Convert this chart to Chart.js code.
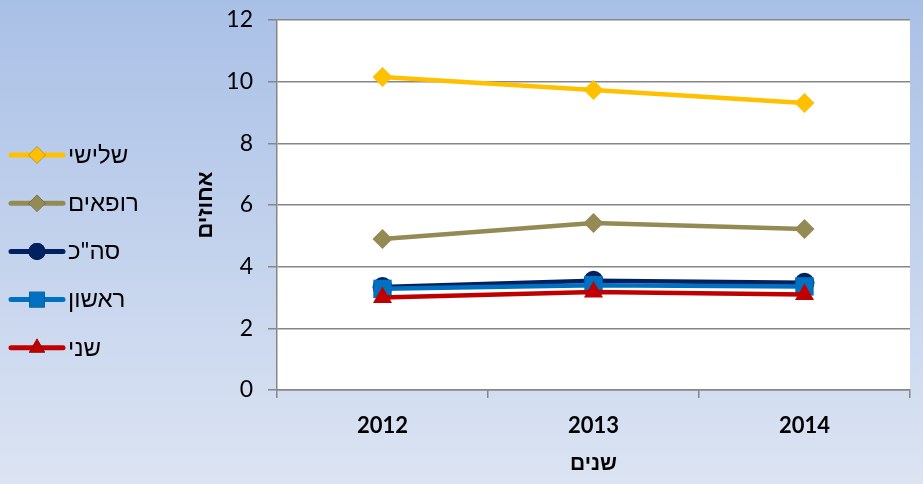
<!DOCTYPE html>
<html>
<head>
<meta charset="utf-8">
<script src="https://cdn.jsdelivr.net/npm/chart.js@4/dist/chart.umd.min.js"></script>
<style>
  html, body { margin: 0; padding: 0; }
  #wrap { width: 923px; height: 484px; }
</style>
</head>
<body>
<div id="wrap"><canvas id="chart" width="923" height="484"></canvas></div>
<script>
// data
const years = ["2012", "2013", "2014"];
const seriesNames = ["שלישי", "רופאים", 'סה"כ', "ראשון", "שני"];
const third = [10.15, 9.73, 9.31];
const doctors = [4.9, 5.42, 5.22];
const total = [3.34, 3.54, 3.48];
const first = [3.28, 3.4, 3.36];
const second = [3.0, 3.18, 3.1];
const yTicks = [0, 2, 4, 6, 8, 10, 12];

const colors = ["#FFC000", "#948A54", "#002060", "#0070C0", "#C00000"];
const markers = ["rectRot", "rectRot", "circle", "rect", "triangle"];
const radii = [10, 10, 10, 13, 11];
const values = [third, doctors, total, first, second];
const drawOrder = [4, 3, 2, 1, 0];

const FONT = "Lato, 'Liberation Sans', sans-serif";

const datasets = seriesNames.map((name, i) => ({
  label: name,
  data: values[i],
  borderColor: colors[i],
  backgroundColor: colors[i],
  borderWidth: 4.5,
  pointStyle: markers[i],
  pointRadius: radii[i],
  pointHoverRadius: radii[i],
  pointBorderWidth: 0,
  tension: 0,
  order: drawOrder[i]
}));

// page background gradient + white plot area
const backdrop = {
  id: "backdrop",
  beforeDraw(chart) {
    const { ctx, width, height, chartArea } = chart;
    const g = ctx.createLinearGradient(0, 0, 0, height);
    g.addColorStop(0, "#a9c0e6");
    g.addColorStop(1, "#dce4f3");
    ctx.save();
    ctx.fillStyle = g;
    ctx.fillRect(0, 0, width, height);
    ctx.fillStyle = "#ffffff";
    ctx.fillRect(chartArea.left, chartArea.top, chartArea.right - chartArea.left, chartArea.bottom - chartArea.top);
    ctx.restore();
  }
};

// legend on the left: line + marker, label to the right
const sideLegend = {
  id: "sideLegend",
  afterDraw(chart) {
    const { ctx } = chart;
    ctx.save();
    chart.data.datasets.forEach((ds, i) => {
      const y = 155 + i * 48.2;
      ctx.strokeStyle = ds.borderColor;
      ctx.lineWidth = 5;
      ctx.lineCap = "round";
      ctx.beginPath();
      ctx.moveTo(11, y);
      ctx.lineTo(63, y);
      ctx.stroke();
      Chart.helpers.drawPoint(ctx, {
        pointStyle: ds.pointStyle,
        radius: ds.pointRadius * 0.85,
        borderWidth: 0
      }, 37, y);
      ctx.fillStyle = ds.backgroundColor;
      ctx.fill();
      ctx.fillStyle = "#000000";
      ctx.font = "24px " + FONT;
      ctx.textAlign = "left";
      ctx.textBaseline = "middle";
      ctx.fillText(ds.label, 68, y);
    });
    ctx.restore();
  }
};

new Chart(document.getElementById("chart"), {
  type: "line",
  data: { labels: years, datasets: datasets },
  plugins: [backdrop, sideLegend],
  options: {
    responsive: false,
    animation: false,
    layout: { padding: { left: 190, right: 10, top: 20, bottom: 8 } },
    plugins: { legend: { display: false }, tooltip: { enabled: false } },
    scales: {
      x: {
        offset: true,
        grid: { drawOnChartArea: false, offset: true, tickLength: 8, color: "#868686", lineWidth: 1.5 },
        border: { color: "#868686", width: 1.5 },
        ticks: { color: "#000000", padding: 15, font: { family: FONT, size: 22, weight: "bold" } },
        title: { display: true, text: "שנים", color: "#000000", padding: { top: 4, bottom: 0 }, font: { family: FONT, size: 21, weight: "bold" } },
        afterFit(scale) { scale.height = 86; }
      },
      y: {
        min: 0,
        max: 12,
        afterBuildTicks(scale) { scale.ticks = yTicks.map(v => ({ value: v })); },
        grid: { tickLength: 9, color: "#868686", lineWidth: 1.5 },
        border: { color: "#868686", width: 1.5 },
        ticks: { color: "#000000", padding: 15, font: { family: FONT, size: 23 } },
        title: { display: true, text: "אחוזים", color: "#000000", padding: { top: 2, bottom: 0 }, font: { family: FONT, size: 22, weight: "bold" } },
        afterFit(scale) {
          scale.width = 87;
          scale.paddingTop = 0;
          scale.paddingBottom = 0;
        }
      }
    }
  }
});
</script>
</body>
</html>
